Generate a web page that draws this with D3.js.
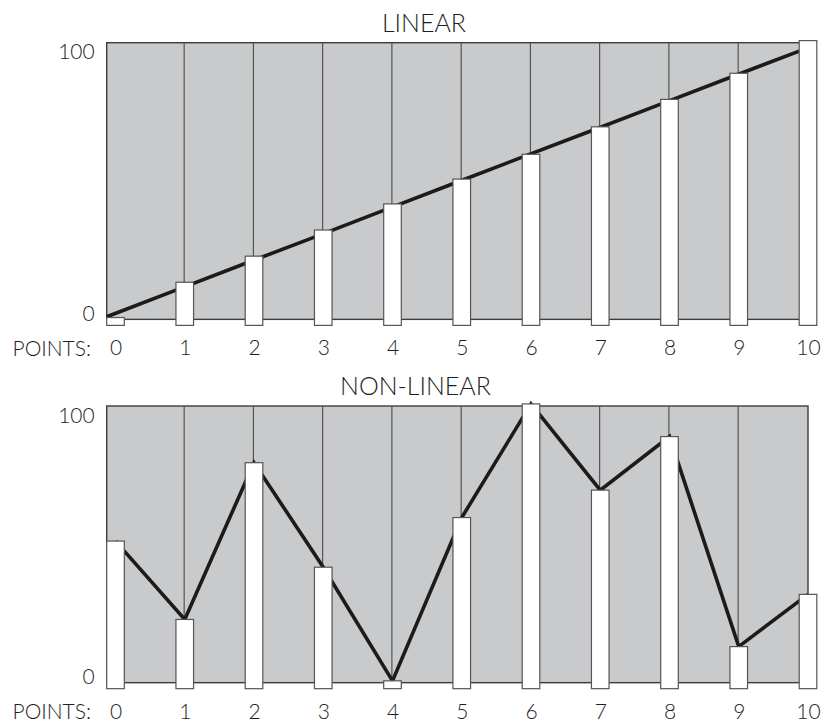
<!DOCTYPE html>
<html>
<head>
<meta charset="utf-8">
<script src="https://cdn.jsdelivr.net/npm/d3@7"></script>
<style>
  html, body { margin: 0; padding: 0; background: #fff; }
  svg { display: block; }
  text { font-family: Lato, "Open Sans", sans-serif; font-weight: 300; fill: #1e1e1e; }
</style>
</head>
<body>
<svg id="chart" width="825" height="724"></svg>
<script>
// ---- data ----
const categories = ["0", "1", "2", "3", "4", "5", "6", "7", "8", "9", "10"];
const yTicks = [0, 100];
const titles = ["LINEAR", "NON-LINEAR"];
const axisLabel = "POINTS:";
// bar heights as drawn (0 drawn as a small stub, 100 slightly over-tall)
const linearBars = [-3.5, 10, 20, 30, 40, 49.5, 59, 69.5, 80, 90, 102.5];
// straight trend line, read at each bar's left edge
const linearLine = [-3.2, 7.0, 17.2, 27.3, 37.5, 47.7, 57.9, 68.0, 78.2, 88.4, 98.5];
const nonLinearBars = [50, 20, 80, 40, -3.5, 59, 102.5, 69.5, 90, 9.6, 29.6];
const nonLinearLine = [50, 20, 80, 40, -3.5, 59, 102.5, 69.5, 90, 9.6, 29.6];

// ---- layout ----
const barW = 17.6;
const panelShift = 363.3;
const svg = d3.select("#chart");
const FONT = "Lato, 'Open Sans', sans-serif";
const TEXT = "#1e1e1e";

const x = d3.scalePoint().domain(categories).range([115.5, 808]);

const panels = [
  { title: titles[0], bars: linearBars, line: linearLine, lineOffset: -barW / 2, dy: 0, titleX: 424 },
  { title: titles[1], bars: nonLinearBars, line: nonLinearLine, lineOffset: 0, dy: panelShift, titleX: 415.5 }
];

panels.forEach((p) => {
  const y = d3.scaleLinear().domain([0, 100]).range([308.4 + p.dy, 47.15 + p.dy]);
  const g = svg.append("g");
  const top = y(101.7), bottom = y(-4.2), barBase = y(-6.5);
  const left = x(categories[0]) - barW / 2, right = x(categories[categories.length - 1]);

  // background panel
  g.append("rect")
    .attr("x", left).attr("y", top)
    .attr("width", right - left).attr("height", bottom - top)
    .attr("fill", "#c9cacc")
    .attr("stroke", "#3c3c3c").attr("stroke-width", 1.4);

  // vertical grid lines at inner categories
  g.selectAll("line.grid")
    .data(categories.slice(1, -1))
    .join("line")
    .attr("class", "grid")
    .attr("x1", d => x(d) - 0.6).attr("x2", d => x(d) - 0.6)
    .attr("y1", top).attr("y2", bottom)
    .attr("stroke", "#4a4a4a").attr("stroke-width", 1.1);

  // trend line (behind bars)
  const lineGen = d3.line()
    .x((d, i) => x(categories[i]) + p.lineOffset)
    .y(d => y(d));
  g.append("path")
    .datum(p.line)
    .attr("d", lineGen)
    .attr("fill", "none")
    .attr("stroke", "#1b1b1b")
    .attr("stroke-width", 3.6)
    .attr("stroke-linejoin", "miter");

  // bars
  g.selectAll("rect.bar")
    .data(p.bars)
    .join("rect")
    .attr("class", "bar")
    .attr("x", (d, i) => x(categories[i]) - barW / 2)
    .attr("y", d => y(d))
    .attr("width", barW)
    .attr("height", d => barBase - y(d))
    .attr("fill", "#ffffff")
    .attr("stroke", "#555").attr("stroke-width", 1.2);

  // x axis labels
  const xAxis = d3.axisBottom(x).tickSize(0).tickPadding(21);
  const xg = g.append("g").attr("transform", `translate(0,${bottom})`).call(xAxis);
  xg.select(".domain").remove();
  xg.selectAll("text")
    .style("font-family", FONT)
    .style("font-weight", 300)
    .style("font-size", "21px")
    .attr("fill", TEXT);

  g.append("text")
    .attr("x", 12.5).attr("y", bottom + 36.4)
    .style("font-size", "21px")
    .text(axisLabel);

  // y axis labels
  const yAxis = d3.axisLeft(y).tickValues(yTicks).tickSize(0).tickPadding(12).tickFormat(d3.format("d"));
  const yg = g.append("g").attr("transform", `translate(${left},0)`).call(yAxis);
  yg.select(".domain").remove();
  yg.selectAll("text")
    .attr("transform", "translate(0,5)")
    .style("font-family", FONT)
    .style("font-weight", 300)
    .style("font-size", "21px")
    .attr("fill", TEXT);

  // title
  g.append("text")
    .attr("x", p.titleX).attr("y", 31.7 + p.dy)
    .attr("text-anchor", "middle")
    .style("font-size", "25px")
    .text(p.title);
});
</script>
</body>
</html>
